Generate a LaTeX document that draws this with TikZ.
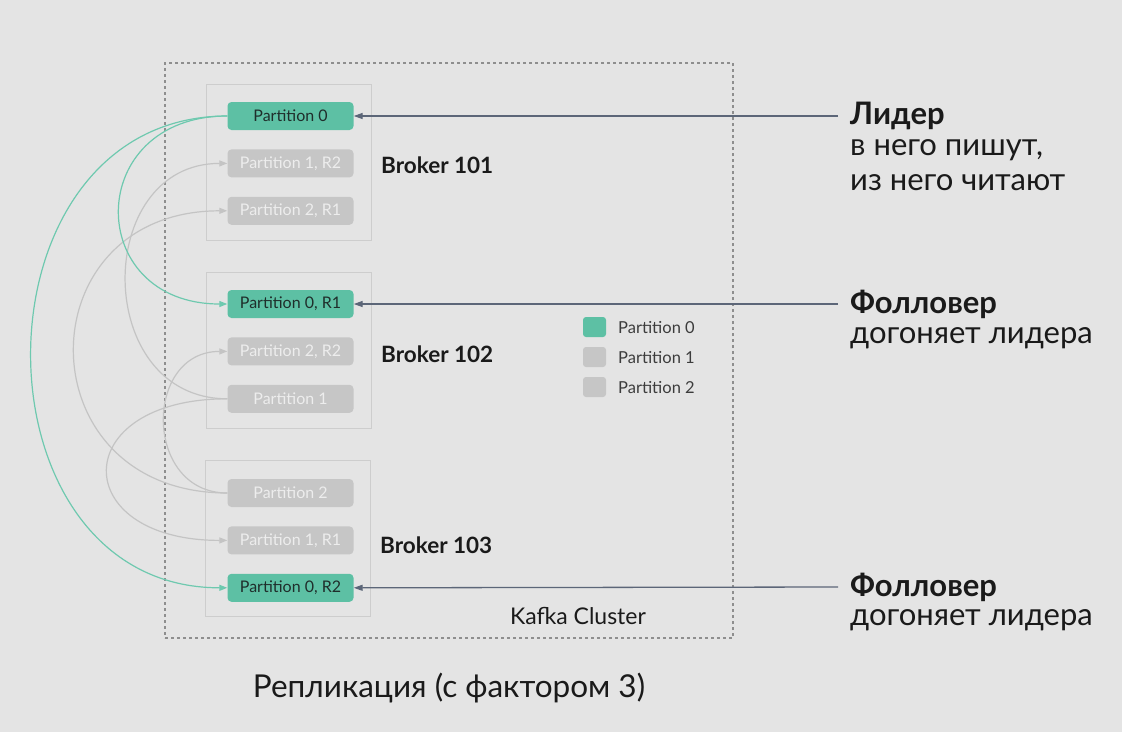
\documentclass[tikz,border=0pt]{standalone}
\usepackage{fontspec}
\setmainfont{Lato}
\usetikzlibrary{arrows.meta,positioning}
\definecolor{Canvas}{HTML}{E4E4E4}
\definecolor{Ink}{HTML}{1A1A1A}
\definecolor{LeafInk}{HTML}{1F2E2B}
\definecolor{Mint}{HTML}{5DC0A4}
\definecolor{MintLine}{HTML}{6EC9AF}
\definecolor{Ash}{HTML}{C6C6C6}
\definecolor{AshLine}{HTML}{C4C4C4}
\definecolor{Ghost}{HTML}{EDEDED}
\definecolor{Frame}{HTML}{CDCDCD}
\definecolor{Dash}{HTML}{8E8E8E}
\definecolor{Slate}{HTML}{5C6678}
\tikzset{
  part/.style={rounded corners=4pt,minimum width=126pt,minimum height=28pt,inner sep=0pt,font=\fontsize{16}{18}\selectfont},
  partlead/.style={part,fill=Mint,text=LeafInk},
  partcopy/.style={part,fill=Ash,text=Ghost},
  brokerbox/.style={draw=Frame,line width=1pt,minimum width=165pt,minimum height=156pt,inner sep=0pt},
  brokername/.style={anchor=west,inner sep=0pt,text=Ink,font=\bfseries\fontsize{22.5}{26}\selectfont},
  cluster/.style={draw=Dash,line width=1.2pt,dash pattern=on 3pt off 3pt,minimum width=568pt,minimum height=575pt,inner sep=0pt},
  legendkey/.style={rounded corners=3pt,minimum width=23pt,minimum height=20pt,inner sep=0pt},
  legendtext/.style={anchor=west,inner sep=0pt,text=Ink!85,font=\fontsize{16.5}{18}\selectfont},
  rolehead/.style={anchor=west,inner xsep=12pt,inner ysep=0pt,text=Ink,font=\bfseries\fontsize{31}{34}\selectfont},
  rolenote/.style={anchor=west,inner sep=0pt,text=Ink,font=\fontsize{31}{34}\selectfont},
  mintArrow/.style={-{Triangle[length=8pt,width=6pt]},draw=MintLine,line width=1.2pt},
  ashArrow/.style={-{Triangle[length=8pt,width=6pt]},draw=AshLine,line width=1.2pt},
  pointer/.style={-{Triangle[length=9pt,width=6pt]},draw=Slate,line width=1.3pt}
}
\begin{document}
\begin{tikzpicture}[x=1pt,y=-1pt,node distance=19pt]
\useasboundingbox[fill=Canvas] (0,0) rectangle (1122,732);
% cluster frame and brokers
\node[cluster] (kafka) at (449,350.5) {};
\node[brokerbox] (b101) at (288.5,162) {};
\node[brokerbox] (b102) at (288.5,350.5) {};
\node[brokerbox] (b103) at (288,538.5) {};
\node[brokername] (n101) at (381,165) {Broker 101};
\node[brokername] (n102) at (381,354) {Broker 102};
\node[brokername] (n103) at (380,545) {Broker 103};
% partitions
\node[partlead] (p0) at (290.5,116) {Partition 0};
\node[partcopy,below=of p0] (p1r2) {Partition 1, R2};
\node[partcopy,below=of p1r2] (p2r1) {Partition 2, R1};
\node[partlead] (p0r1) at (290.5,304) {Partition 0, R1};
\node[partcopy,below=of p0r1] (p2r2) {Partition 2, R2};
\node[partcopy,below=of p2r2] (p1) {Partition 1};
\node[partcopy] (p2) at (290.5,493) {Partition 2};
\node[partcopy,below=of p2] (p1r1) {Partition 1, R1};
\node[partlead,below=of p1r1] (p0r2) {Partition 0, R2};
% replication curves
\foreach \src/\dst/\bend in {p1/p1r2/135,p1/p1r1/160,p2/p2r1/204,p2/p2r2/84}
  \draw[ashArrow] (\src.west) .. controls +(-\bend,0) and +(-\bend,0) .. (\dst.west);
\draw[mintArrow] (p0.west) .. controls +(-144,0) and +(-144,0) .. (p0r1.west);
\draw[mintArrow] (p0.west) .. controls +(-261,0) and +(-261,0) .. (p0r2.west);
% legend
\node[legendkey,fill=Mint] (k0) at (594.5,327) {};
\node[legendkey,fill=Ash] (k1) at (594.5,357) {};
\node[legendkey,fill=Ash] (k2) at (594.5,387) {};
\node[legendtext] (t0) at (618,328) {Partition 0};
\node[legendtext] (t1) at (618,358) {Partition 1};
\node[legendtext] (t2) at (618,388) {Partition 2};
\node[text=Ink,font=\fontsize{23}{26}\selectfont] (kname) at (578,616) {Kafka Cluster};
% roles
\node[rolehead] (lead) at (838,116) {Лидер};
\node[rolenote] (lead1) at (850,150) {в него пишут,};
\node[rolenote] (lead2) at (850,183) {из него читают};
\node[rolehead] (foll1) at (838,304) {Фолловер};
\node[rolenote] (foll1a) at (850,338) {догоняет лидера};
\node[rolehead] (foll2) at (838,587) {Фолловер};
\node[rolenote] (foll2a) at (850,620) {догоняет лидера};
\draw[pointer] (lead.west) -- (p0.east);
\draw[pointer] (foll1.west) -- (p0r1.east);
\draw[pointer] (foll2.west) -- (p0r2.east);
\node[text=Ink,font=\fontsize{31.5}{34}\selectfont] (caption) at (449,688) {Репликация (с фактором 3)};
\end{tikzpicture}
\end{document}
